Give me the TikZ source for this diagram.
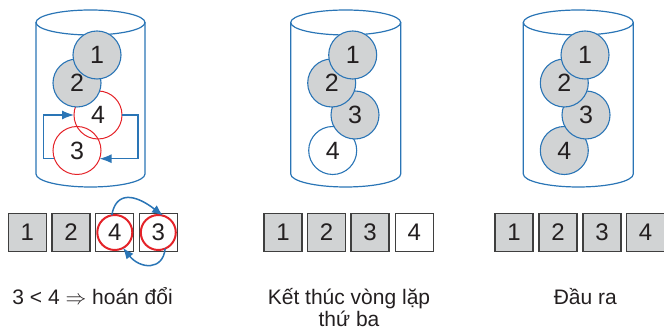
\documentclass[tikz,border=0pt]{standalone}
\usepackage{fontspec}
\setmainfont{Liberation Sans}
\usetikzlibrary{arrows.meta}
\definecolor{cylblue}{HTML}{2A75B6}
\definecolor{ballgray}{HTML}{D1D3D4}
\definecolor{swapred}{HTML}{E42329}
\definecolor{boxedge}{HTML}{3F3F3F}
\definecolor{txt}{HTML}{231F20}
\begin{document}
\begin{tikzpicture}[x=1pt,y=1pt,
  cyl/.style={draw=cylblue, line width=1.2pt},
  ball/.style={circle, minimum size=48pt, inner sep=0pt, outer sep=0pt, draw=cylblue, line width=1.1pt, fill=ballgray, font=\fontsize{25}{25}\selectfont, text=txt},
  whiteball/.style={ball, fill=white},
  redball/.style={ball, draw=swapred, fill=none, line width=1pt},
  cell/.style={draw=boxedge, line width=1.2pt, fill=ballgray, minimum width=38pt, minimum height=38.4pt, inner sep=0pt, outer sep=0pt, font=\fontsize{24}{24}\selectfont, text=txt},
  whitecell/.style={cell, fill=white},
  ring/.style={circle, draw=swapred, line width=2pt, minimum size=35pt, inner sep=0pt, outer sep=0pt},
  flow/.style={draw=cylblue, line width=1.2pt, -{Latex[length=12pt,width=9pt]}},
  swaparc/.style={draw=cylblue, line width=1.5pt, -{Latex[length=11pt,width=9pt]}},
  caption/.style={font=\fontsize{21}{21.5}\selectfont, text=txt, align=center, inner sep=0pt}
]
\useasboundingbox (0,0) rectangle (664,331);

% cylinders
\foreach \cx/\rx in {90.5/54.5, 345.7/55, 578.3/55} {
  \draw[cyl] (\cx,308.5) ellipse [x radius=\rx, y radius=12.5];
  \draw[cyl] (\cx-\rx,308.5) -- (\cx-\rx,157)
    arc[start angle=180, end angle=360, x radius=\rx, y radius=13] -- (\cx+\rx,308.5);
}

% cylinder 1
\node[redball] (a3) at (77,180.5) {3};
\node[redball] (a4) at (98,216) {4};
\node[ball] (a2) at (77,248) {2};
\node[ball] (a1) at (97,276) {1};
\draw[flow] (a3.200) -- ++(-11,0) |- (a4.west);
\draw[flow] (a4.east) -- ++(16,0) |- (a3.-20);

% cylinder 2
\node[whiteball] (b4) at (332.7,180.5) {4};
\node[ball] (b3) at (355,216) {3};
\node[ball] (b2) at (331.7,248) {2};
\node[ball] (b1) at (352.7,276) {1};

% cylinder 3
\node[ball] (c4) at (564.3,180.5) {4};
\node[ball] (c3) at (586,216) {3};
\node[ball] (c2) at (564.3,248) {2};
\node[ball] (c1) at (585,276) {1};

% row 1
\node[cell] (p1) at (27.3,98.5) {1};
\node[cell] (p2) at (71,98.5) {2};
\node[whitecell] (p3) at (114.8,98.5) {4};
\node[whitecell] (p4) at (158.3,98.5) {3};
\node[ring] (ring4) at (p3.center) {};
\node[ring] (ring3) at (p4.center) {};
\draw[swaparc] (ring4.100) .. controls (116,140) and (135,137) .. (ring3.75);
\draw[swaparc] (ring3.-67) .. controls (163,60) and (140,62) .. (ring4.-62);

% row 2
\node[cell] (q1) at (283,98.5) {1};
\node[cell] (q2) at (326.5,98.5) {2};
\node[cell] (q3) at (370,98.5) {3};
\node[whitecell] (q4) at (414.2,98.5) {4};

% row 3
\node[cell] (s1) at (514,98.5) {1};
\node[cell] (s2) at (558,98.5) {2};
\node[cell] (s3) at (602,98.5) {3};
\node[cell] (s4) at (645.5,98.5) {4};

% captions
\node[caption, anchor=base] (cap1) at (92.6,26) {3 < 4 $\Rightarrow$ hoán đổi};
\node[caption, anchor=base] (cap2) at (349,4.5) {Kết thúc vòng lặp\\thứ ba};
\node[caption, anchor=base] (cap3) at (585.3,26) {Đầu ra};
\end{tikzpicture}
\end{document}
